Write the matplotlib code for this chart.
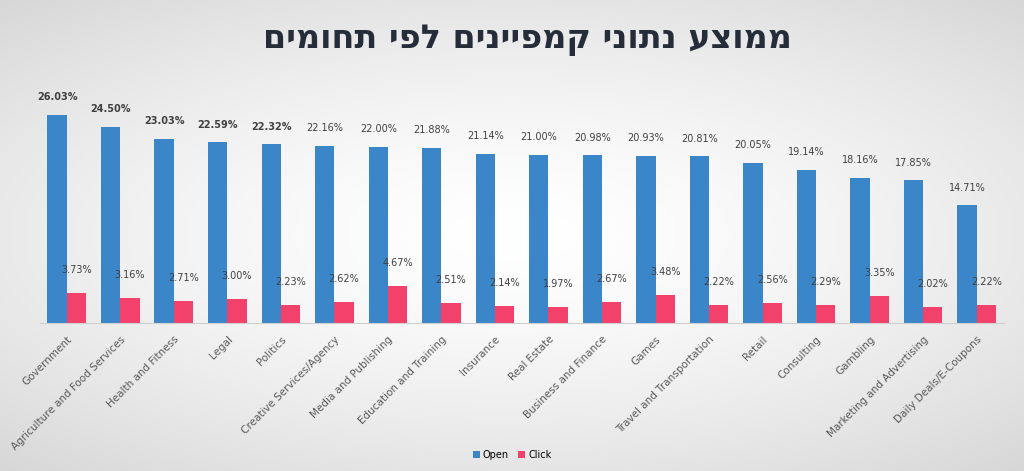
import matplotlib.pyplot as plt
import numpy as np

categories = ["Government", "Agriculture and Food Services", "Health and Fitness", "Legal",
              "Politics", "Creative Services/Agency", "Media and Publishing",
              "Education and Training", "Insurance", "Real Estate", "Business and Finance",
              "Games", "Travel and Transportation", "Retail", "Consulting", "Gambling",
              "Marketing and Advertising", "Daily Deals/E-Coupons"]
open_rate = [26.03, 24.50, 23.03, 22.59, 22.32, 22.16, 22.00, 21.88, 21.14, 21.00,
             20.98, 20.93, 20.81, 20.05, 19.14, 18.16, 17.85, 14.71]
click_rate = [3.73, 3.16, 2.71, 3.00, 2.23, 2.62, 4.67, 2.51, 2.14, 1.97,
              2.67, 3.48, 2.22, 2.56, 2.29, 3.35, 2.02, 2.22]
title = "ממוצע נתוני קמפיינים לפי תחומים"

open_color = "#3a86c8"
click_color = "#f2416b"

fig = plt.figure(figsize=(10.24, 4.71), dpi=100)

# background: white in the middle, light grey toward the edges
bg = fig.add_axes([0, 0, 1, 1], zorder=-10)
yy, xx = np.mgrid[-1:1:200j, -1:1:400j]
r = np.sqrt((xx * 0.75) ** 2 + (yy * 0.85) ** 2)
shade = np.clip(1.0 - 0.13 * r ** 1.5, 0, 1)
bg.imshow(np.dstack([shade, shade, shade]), aspect="auto", extent=[0, 1, 0, 1])
bg.axis("off")

ax = fig.add_axes([0.039, 0.314, 0.941, 0.51])
ax.patch.set_alpha(0)
x = np.arange(len(categories))
w = 0.36
b1 = ax.bar(x - w / 2, open_rate, w, color=open_color, label="Open")
b2 = ax.bar(x + w / 2, click_rate, w, color=click_color, label="Click")

for i in range(len(categories)):
    ax.annotate(f"{open_rate[i]:.2f}%", (x[i] - w / 2, open_rate[i]), xytext=(0, 9),
                textcoords="offset points", ha="center", va="bottom", fontsize=7,
                color="#404040", fontweight="bold" if i < 5 else "normal")
    ax.annotate(f"{click_rate[i]:.2f}%", (x[i] + w / 2, click_rate[i]), xytext=(0, 13),
                textcoords="offset points", ha="center", va="bottom", fontsize=7,
                color="#404040")

ax.set_xlim(-0.5, len(categories) - 0.5)
ax.set_ylim(0, 30)
ax.set_yticks([])
ax.set_xticks(x)
ax.set_xticklabels(categories, rotation=45, ha="right", rotation_mode="anchor",
                   fontsize=7.5, color="#595959")
ax.tick_params(axis="x", length=0, pad=8)
for s in ["top", "right", "left"]:
    ax.spines[s].set_visible(False)
ax.spines["bottom"].set_color("#d0d0d0")

fig.text(0.515, 0.917, title[::-1], ha="center", va="center", fontsize=24,
         fontweight="bold", color="#262d3a", family="DejaVu Sans")

fig.legend(handles=[b1, b2], loc="center", bbox_to_anchor=(0.5, 0.034), ncol=2,
           frameon=False, fontsize=7, handlelength=0.7, handleheight=0.7,
           handletextpad=0.3, columnspacing=1.0)

fig.savefig("out.png", dpi=100)
